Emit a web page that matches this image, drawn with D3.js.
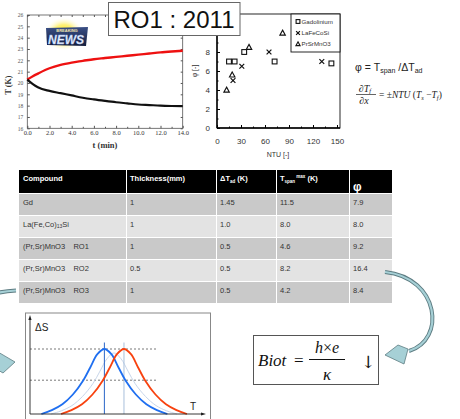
<!DOCTYPE html>
<html><head><meta charset="utf-8">
<script src="https://cdn.jsdelivr.net/npm/d3@7"></script>
<style>body{margin:0;background:#fff}svg{display:block}</style>
</head><body>
<svg id="c" width="460" height="419"></svg>
<script>
// ---------- DATA ----------
// Left panel: temperature vs time
const timeMin = [0, 0.5, 1, 2, 3, 4, 5, 6, 7, 8, 9, 10, 11, 12, 13, 14];
const tempHot = [20.3, 20.6, 20.85, 21.3, 21.6, 21.8, 21.95, 22.1, 22.2, 22.3, 22.4, 22.5, 22.6, 22.7, 22.78, 22.85];
const tempCold = [20.3, 19.9, 19.6, 19.3, 19.1, 18.9, 18.7, 18.55, 18.42, 18.3, 18.2, 18.1, 18.05, 18.0, 17.97, 17.95];
const timeTicks = ["0.0", "2.0", "4.0", "6.0", "8.0", "10.0", "12.0", "14.0"];
const tempTicks = [16, 17, 18, 19, 20, 21, 22, 23, 24, 25, 26];

// Scatter: phi vs NTU
const gdNTU = [15, 22, 34, 72, 143];
const gdPhi = [7.0, 7.0, 8.0, 7.0, 6.8];
const lfcsNTU = [20, 31, 65, 131];
const lfcsPhi = [5.0, 6.5, 8.0, 7.0];
const psmoNTU = [12, 19, 40, 82];
const psmoPhi = [4.0, 5.6, 8.5, 10.0];
const seriesNames = ["Gadolinium", "LaFeCoSi", "PrSrMnO3"];
const ntuTicks = [0, 30, 60, 90, 120, 150];
const phiTicks = [0, 2, 4, 6, 8];       // labels visible (10 and 12 hidden behind title box)
const phiTickMarks = [0, 2, 4, 6, 8, 10, 12];

// Table
const tableHeader = ["Compound", "Thickness(mm)", "ΔTad (K)", "Tspanmax (K)", "φ"];
const compounds = ["Gd", "La(Fe,Co)13Si", "(Pr,Sr)MnO3    RO1", "(Pr,Sr)MnO3    RO2", "(Pr,Sr)MnO3    RO3"];
const thickness = ["1", "1", "1", "0.5", "1"];
const dTad = ["1.45", "1.0", "0.5", "0.5", "0.5"];
const tSpan = ["11.5", "8.0", "4.6", "8.2", "4.2"];
const phiVals = ["7.9", "8.0", "9.2", "16.4", "8.4"];

// ΔS sketch curves
const dsOffsets = [-36, -30, -24, -18, -12, -8, -4, 0, 4, 8, 12, 18, 24, 30, 36];
const dsBlue = [0.0, 0.06, 0.15, 0.3, 0.52, 0.72, 0.92, 1.0, 0.92, 0.72, 0.52, 0.3, 0.15, 0.06, 0.0];
const dsRed = [0.0, 0.06, 0.15, 0.3, 0.52, 0.72, 0.92, 1.0, 0.92, 0.72, 0.52, 0.3, 0.15, 0.06, 0.0];
const dsFaint = [0.0, 0.05, 0.13, 0.27, 0.47, 0.66, 0.85, 0.94, 0.85, 0.66, 0.47, 0.27, 0.13, 0.05, 0.0];
const blueCenter = 42.5, redCenter = 53.7, faintCenter = 48;
const dsLevels = [1.0, 0.52];

// ---------- DRAW ----------
const svg = d3.select("#c");
const SERIF = "'Liberation Serif','DejaVu Serif',serif";
const SANS = "'Liberation Sans',Arial,sans-serif";
const defs = svg.append("defs");

// ===== Left panel =====
(function(){
  const x = d3.scaleLinear().domain([0, 14]).range([27.3, 182.7]);
  const y = d3.scaleLinear().domain([16, 26]).range([128.3, 15]);
  const g = svg.append("g");
  const rg = defs.append("radialGradient").attr("id", "sun");
  rg.append("stop").attr("offset", "0%").attr("stop-color", "#ffe600");
  rg.append("stop").attr("offset", "55%").attr("stop-color", "#fff27a");
  rg.append("stop").attr("offset", "100%").attr("stop-color", "#ffffff").attr("stop-opacity", 0);
  g.append("ellipse").attr("cx", 64).attr("cy", 34).attr("rx", 20).attr("ry", 17).attr("fill", "url(#sun)");
  const lg = defs.append("linearGradient").attr("id", "nb").attr("x1", 0).attr("y1", 0).attr("x2", 0).attr("y2", 1);
  lg.append("stop").attr("offset", "0%").attr("stop-color", "#3a4f86");
  lg.append("stop").attr("offset", "100%").attr("stop-color", "#141d3c");
  g.append("path").attr("d", "M46,28 L88,27 L86,46 L47,45 Z").attr("fill", "url(#nb)");
  g.append("text").attr("x", 67).attr("y", 31.5).attr("text-anchor", "middle")
    .attr("font-family", SANS).attr("font-size", 4).attr("font-weight", "bold").attr("fill", "#f4e7b0").text("BREAKING");
  g.append("text").attr("x", 66).attr("y", 43.5).attr("text-anchor", "middle")
    .attr("font-family", SANS).attr("font-size", 12).attr("font-weight", "bold").attr("font-style", "italic")
    .attr("fill", "#e8f0ff").attr("stroke", "#9fb8e8").attr("stroke-width", 0.3).text("NEWS");

  g.append("rect").attr("x", x(0)).attr("y", y(26)).attr("width", x(14) - x(0)).attr("height", y(16) - y(26))
    .attr("fill", "none").attr("stroke", "#555").attr("stroke-width", 0.8);
  const xa = d3.axisBottom(x).tickValues(d3.range(0, 15, 2)).tickSize(-2.5).tickFormat((d, i) => timeTicks[i]);
  const xg = g.append("g").attr("transform", `translate(0,${y(16)})`).call(xa);
  xg.select(".domain").remove();
  xg.selectAll("line").attr("stroke", "#555");
  xg.selectAll("text").attr("font-family", SERIF).attr("font-size", 6.5).attr("fill", "#333").attr("dy", "0.6em");
  const xt = g.append("g").attr("transform", `translate(0,${y(26)})`).call(d3.axisTop(x).tickValues(d3.range(0, 15, 1)).tickSize(-2).tickFormat(""));
  xt.select(".domain").remove(); xt.selectAll("line").attr("stroke", "#555");
  const xm = g.append("g").attr("transform", `translate(0,${y(16)})`).call(d3.axisBottom(x).tickValues(d3.range(1, 15, 2)).tickSize(-1.5).tickFormat(""));
  xm.select(".domain").remove(); xm.selectAll("line").attr("stroke", "#555");
  const ya = d3.axisLeft(y).tickValues(tempTicks).tickSize(-2.5);
  const yg = g.append("g").attr("transform", `translate(${x(0)},0)`).call(ya);
  yg.select(".domain").remove();
  yg.selectAll("line").attr("stroke", "#555");
  yg.selectAll("text").attr("font-family", SERIF).attr("font-size", 5.5).attr("fill", "#555").attr("x", -4);
  const yr = g.append("g").attr("transform", `translate(${x(14)},0)`).call(d3.axisRight(y).tickValues(tempTicks).tickSize(-2).tickFormat(""));
  yr.select(".domain").remove(); yr.selectAll("line").attr("stroke", "#555");

  const line = d3.line().x((d, i) => x(timeMin[i])).y(d => y(d)).curve(d3.curveMonotoneX);
  g.append("path").attr("d", line(tempHot)).attr("fill", "none").attr("stroke", "#ee1111").attr("stroke-width", 2.4);
  g.append("path").attr("d", line(tempCold)).attr("fill", "none").attr("stroke", "#111").attr("stroke-width", 2.2);
  g.append("text").attr("x", 105).attr("y", 148).attr("text-anchor", "middle").attr("font-family", SERIF)
    .attr("font-size", 8.5).attr("font-weight", "bold").attr("fill", "#333").text("t (min)");
  g.append("text").attr("transform", "translate(11,85) rotate(-90)").attr("text-anchor", "middle").attr("font-family", SERIF)
    .attr("font-size", 8).attr("font-weight", "bold").attr("fill", "#333").text("T (K)");
})();

// ===== Scatter panel =====
(function(){
  const x = d3.scaleLinear().domain([0, 153.75]).range([217, 340]);
  const y = d3.scaleLinear().domain([0, 12]).range([128, 14]);
  const g = svg.append("g");
  g.append("rect").attr("x", 217).attr("y", 14).attr("width", 123).attr("height", 114)
    .attr("fill", "none").attr("stroke", "#111").attr("stroke-width", 0.9);
  g.append("line").attr("x1", 217).attr("x2", 217).attr("y1", 14).attr("y2", 128).attr("stroke", "#000").attr("stroke-width", 1.4);
  g.append("line").attr("x1", 217).attr("x2", 340).attr("y1", 128).attr("y2", 128).attr("stroke", "#000").attr("stroke-width", 1.4);
  const xg = g.append("g").attr("transform", "translate(0,128)").call(d3.axisBottom(x).tickValues(ntuTicks).tickSize(-3));
  xg.select(".domain").remove();
  xg.selectAll("line").attr("stroke", "#000");
  xg.selectAll("text").attr("font-family", SANS).attr("font-size", 8).attr("fill", "#333").attr("y", 10);
  const xm = g.append("g").attr("transform", "translate(0,128)").call(d3.axisBottom(x).tickValues(d3.range(15, 151, 30)).tickSize(-1.5).tickFormat(""));
  xm.select(".domain").remove(); xm.selectAll("line").attr("stroke", "#000");
  const yt = g.append("g").attr("transform", "translate(217,0)").call(d3.axisLeft(y).tickValues(phiTickMarks).tickSize(-3).tickFormat(""));
  yt.select(".domain").remove(); yt.selectAll("line").attr("stroke", "#000");
  const yg = g.append("g").attr("transform", "translate(217,0)").call(d3.axisLeft(y).tickValues(phiTicks).tickSize(0));
  yg.select(".domain").remove();
  yg.selectAll("line").remove();
  yg.selectAll("text").attr("font-family", SANS).attr("font-size", 8).attr("fill", "#333").attr("x", -7);
  const ym = g.append("g").attr("transform", "translate(217,0)").call(d3.axisLeft(y).tickValues(d3.range(1, 12, 2)).tickSize(-1.5).tickFormat(""));
  ym.select(".domain").remove(); ym.selectAll("line").attr("stroke", "#000");

  g.append("text").attr("x", 278).attr("y", 157).attr("text-anchor", "middle").attr("font-family", SANS)
    .attr("font-size", 7).attr("fill", "#333").text("NTU [-]");
  g.append("text").attr("transform", "translate(197,71) rotate(-90)").attr("text-anchor", "middle").attr("font-family", SANS)
    .attr("font-size", 7).attr("fill", "#333").text("φ [-]");

  const sq = (sel, cx, cy, s) => sel.append("rect").attr("x", cx - s).attr("y", cy - s).attr("width", 2 * s).attr("height", 2 * s)
    .attr("fill", "none").attr("stroke", "#111").attr("stroke-width", 1.1);
  const cr = (sel, cx, cy, s) => sel.append("path").attr("d", `M${cx - s},${cy - s}L${cx + s},${cy + s}M${cx - s},${cy + s}L${cx + s},${cy - s}`)
    .attr("stroke", "#111").attr("stroke-width", 1.2);
  const tr = (sel, cx, cy, s) => sel.append("path").attr("d", `M${cx},${cy - s * 1.15}L${cx + s * 1.1},${cy + s * 0.85}L${cx - s * 1.1},${cy + s * 0.85}Z`)
    .attr("fill", "none").attr("stroke", "#111").attr("stroke-width", 1.1);
  gdNTU.forEach((n, i) => sq(g, x(n), y(gdPhi[i]), 2.4));
  lfcsNTU.forEach((n, i) => cr(g, x(n), y(lfcsPhi[i]), 2.4));
  psmoNTU.forEach((n, i) => tr(g, x(n), y(psmoPhi[i]), 2.5));

  g.append("rect").attr("x", 291).attr("y", 14).attr("width", 49).attr("height", 38)
    .attr("fill", "#fff").attr("stroke", "#111").attr("stroke-width", 0.9);
  const rows = [21.5, 33, 44];
  const marks = [sq, cr, tr];
  seriesNames.forEach((s, i) => {
    marks[i](g, 298, rows[i], 1.9);
    g.append("text").attr("x", 301.5).attr("y", rows[i] + 2.2).attr("font-family", SANS).attr("font-size", 6.2)
      .attr("fill", "#333").text(s);
  });
})();

// ===== Title box =====
svg.append("rect").attr("x", 108.5).attr("y", 2.5).attr("width", 131.5).attr("height", 33)
  .attr("fill", "#fff").attr("stroke", "#666").attr("stroke-width", 1);
svg.append("text").attr("x", 174).attr("y", 28).attr("text-anchor", "middle").attr("font-family", SANS)
  .attr("font-size", 24).attr("fill", "#111").text("RO1 : 2011");

// ===== Formulas =====
(function(){
  const t = svg.append("text").attr("x", 355).attr("y", 71).attr("font-family", SANS).attr("font-size", 10.5).attr("fill", "#222");
  t.append("tspan").text("φ = T");
  t.append("tspan").attr("font-size", 7).attr("dy", 2).text("span");
  t.append("tspan").attr("dy", -2).text(" /ΔT");
  t.append("tspan").attr("font-size", 7).attr("dy", 2).text("ad");

  const f = svg.append("g").attr("font-family", SERIF).attr("font-style", "italic").attr("fill", "#222");
  const n = f.append("text").attr("x", 365).attr("y", 91.5).attr("text-anchor", "middle").attr("font-size", 10);
  n.append("tspan").text("∂T"); n.append("tspan").attr("font-size", 6.5).attr("dy", 1.5).text("f");
  svg.append("line").attr("x1", 356).attr("x2", 376).attr("y1", 94.5).attr("y2", 94.5).attr("stroke", "#222").attr("stroke-width", 0.7);
  f.append("text").attr("x", 364).attr("y", 104).attr("text-anchor", "middle").attr("font-size", 10).text("∂x");
  const r = f.append("text").attr("x", 379).attr("y", 98).attr("font-size", 9.5);
  r.append("tspan").attr("font-style", "normal").text("= ±");
  r.append("tspan").text("NTU");
  r.append("tspan").attr("font-style", "normal").text(" (");
  r.append("tspan").text("T");
  r.append("tspan").attr("font-size", 6.5).attr("dy", 1.5).text("s");
  r.append("tspan").attr("dy", -1.5).attr("font-style", "normal").text(" −");
  r.append("tspan").text("T");
  r.append("tspan").attr("font-size", 6.5).attr("dy", 1.5).text("f");
  r.append("tspan").attr("dy", -1.5).attr("font-style", "normal").text(")");
})();

// ===== Table =====
(function(){
  const colEdges = [19, 126, 216, 276, 349, 392];
  const g = svg.append("g").attr("font-family", SANS);
  const colX = d3.scaleOrdinal().domain(d3.range(5)).range(colEdges.slice(0, 5));
  for (let c = 0; c < 5; c++) {
    g.append("rect").attr("x", colEdges[c] + (c ? 1 : 0)).attr("y", 170).attr("width", colEdges[c + 1] - colEdges[c] - (c ? 1 : 0))
      .attr("height", 23).attr("fill", "#000");
  }
  const hy = 181;
  const hs = { "font-size": 7.5, "font-weight": "bold", "fill": "#fff" };
  const ht = (c) => { const t = g.append("text").attr("x", colX(c) + 4).attr("y", hy); Object.entries(hs).forEach(([k, v]) => t.attr(k, v)); return t; };
  ht(0).text(tableHeader[0]);
  ht(1).text(tableHeader[1]);
  let t = ht(2); t.append("tspan").text("ΔT"); t.append("tspan").attr("font-size", 4.5).attr("dy", 1.5).text("ad"); t.append("tspan").attr("dy", -1.5).text(" (K)");
  t = ht(3); t.append("tspan").text("T"); t.append("tspan").attr("font-size", 4.5).attr("dy", 1.5).text("span");
  t.append("tspan").attr("font-size", 4.5).attr("dy", -4.5).text(" max"); t.append("tspan").attr("dy", 3).text(" (K)");
  ht(4).attr("y", 191).attr("font-size", 12).text(tableHeader[4]);
  const cols = [compounds, thickness, dTad, tSpan, phiVals];
  for (let r = 0; r < 5; r++) {
    const y0 = 194 + r * 22;
    for (let c = 0; c < 5; c++) {
      g.append("rect").attr("x", colEdges[c] + (c ? 1 : 0)).attr("y", y0).attr("width", colEdges[c + 1] - colEdges[c] - (c ? 1 : 0))
        .attr("height", 21).attr("fill", r % 2 === 0 ? "#c9c9c9" : "#e3e3e3");
      const tx = g.append("text").attr("x", colX(c) + 4).attr("y", y0 + 10.5).attr("font-size", 7.5).attr("fill", "#333");
      const v = cols[c][r];
      if (c === 0 && v.indexOf("13") >= 0) {
        tx.append("tspan").text("La(Fe,Co)"); tx.append("tspan").attr("font-size", 5).attr("dy", 1.5).text("13");
        tx.append("tspan").attr("dy", -1.5).text("Si");
      } else tx.attr("xml:space", "preserve").style("white-space", "pre").text(v);
    }
  }
})();

// ===== Arrows =====
(function(){
  const fillC = "#a6d0d6", edge = "#5d7c82";
  const shaft = "M385,272 C440,278 446,340 409,351";
  svg.append("path").attr("d", shaft).attr("fill", "none").attr("stroke", edge).attr("stroke-width", 4);
  svg.append("path").attr("d", shaft).attr("fill", "none").attr("stroke", fillC).attr("stroke-width", 2.2);
  svg.append("path").attr("d", "M385,355 L398,345 L408,349 L404,364 Z").attr("fill", fillC).attr("stroke", edge).attr("stroke-width", 0.8);
  const lshaft = "M16,290.5 C6,291 -6,293 -14,297";
  svg.append("path").attr("d", lshaft).attr("fill", "none").attr("stroke", edge).attr("stroke-width", 4);
  svg.append("path").attr("d", lshaft).attr("fill", "none").attr("stroke", fillC).attr("stroke-width", 2.2);
  svg.append("path").attr("d", "M-2,352 L15,362 L3,373 L-2,370 Z").attr("fill", fillC).attr("stroke", edge).attr("stroke-width", 0.8);
})();

// ===== ΔS sketch =====
(function(){
  const x = d3.scaleLinear().domain([0, 100]).range([30, 205]);
  const y = d3.scaleLinear().domain([0, 1]).range([414, 349]);
  const g = svg.append("g");
  g.append("rect").attr("x", 25.5).attr("y", 313).attr("width", 185).attr("height", 120)
    .attr("fill", "#fff").attr("stroke", "#888").attr("stroke-width", 1);
  dsLevels.forEach(l => g.append("line").attr("x1", x(0)).attr("x2", x(72)).attr("y1", y(l)).attr("y2", y(l))
    .attr("stroke", "#555").attr("stroke-width", 0.8).attr("stroke-dasharray", "2,2"));
  const line = (c) => d3.line().x((d, i) => x(c + dsOffsets[i])).y(d => y(d)).curve(d3.curveCatmullRom);
  g.append("path").attr("d", line(faintCenter)(dsFaint)).attr("fill", "none").attr("stroke", "#c8d6ea").attr("stroke-width", 1);
  g.append("line").attr("x1", x(redCenter)).attr("x2", x(redCenter)).attr("y1", y(1.1)).attr("y2", y(0)).attr("stroke", "#a9bfdc").attr("stroke-width", 1);
  g.append("line").attr("x1", x(blueCenter)).attr("x2", x(blueCenter)).attr("y1", y(1.1)).attr("y2", y(0)).attr("stroke", "#2a66c8").attr("stroke-width", 1);
  g.append("path").attr("d", line(blueCenter)(dsBlue)).attr("fill", "none").attr("stroke", "#1f6ff0").attr("stroke-width", 1.8);
  g.append("path").attr("d", line(redCenter)(dsRed)).attr("fill", "none").attr("stroke", "#f8420f").attr("stroke-width", 1.8);
  g.append("line").attr("x1", x(0)).attr("x2", x(0)).attr("y1", y(0)).attr("y2", 318).attr("stroke", "#222").attr("stroke-width", 0.9);
  g.append("path").attr("d", `M${x(0)},315 L${x(0) - 1.6},320 L${x(0) + 1.6},320 Z`).attr("fill", "#222");
  g.append("line").attr("x1", x(0)).attr("x2", 203).attr("y1", y(0)).attr("y2", y(0)).attr("stroke", "#222").attr("stroke-width", 0.9);
  g.append("path").attr("d", `M206,${y(0)} L201,${y(0) - 1.6} L201,${y(0) + 1.6} Z`).attr("fill", "#222");
  g.append("text").attr("x", 35).attr("y", 331).attr("font-family", SANS).attr("font-size", 10).attr("fill", "#222").text("ΔS");
  g.append("text").attr("x", 190).attr("y", 410).attr("font-family", SANS).attr("font-size", 10).attr("fill", "#222").text("T");
})();

// ===== Biot box =====
(function(){
  const g = svg.append("g").attr("font-family", SERIF).attr("fill", "#111");
  g.append("rect").attr("x", 253.5).attr("y", 335.5).attr("width", 125).attr("height", 49)
    .attr("fill", "#fff").attr("stroke", "#555").attr("stroke-width", 1);
  g.append("text").attr("x", 258).attr("y", 366).attr("font-size", 17).attr("font-style", "italic").text("Biot");
  g.append("text").attr("x", 294).attr("y", 366).attr("font-size", 17).text("=");
  const num = g.append("text").attr("x", 327).attr("y", 353).attr("text-anchor", "middle").attr("font-size", 16);
  num.append("tspan").attr("font-style", "italic").text("h");
  num.append("tspan").text("×");
  num.append("tspan").attr("font-style", "italic").text("e");
  g.append("line").attr("x1", 309).attr("x2", 345).attr("y1", 359.5).attr("y2", 359.5).attr("stroke", "#111").attr("stroke-width", 1);
  g.append("text").attr("x", 327).attr("y", 380).attr("text-anchor", "middle").attr("font-size", 17).attr("font-style", "italic").text("κ");
  g.append("text").attr("x", 368).attr("y", 368).attr("text-anchor", "middle").attr("font-family", "'DejaVu Serif','DejaVu Sans',serif")
    .attr("font-size", 17).attr("fill", "#111").text("\u2193\uFE0E");
})();
</script>
</body></html>
